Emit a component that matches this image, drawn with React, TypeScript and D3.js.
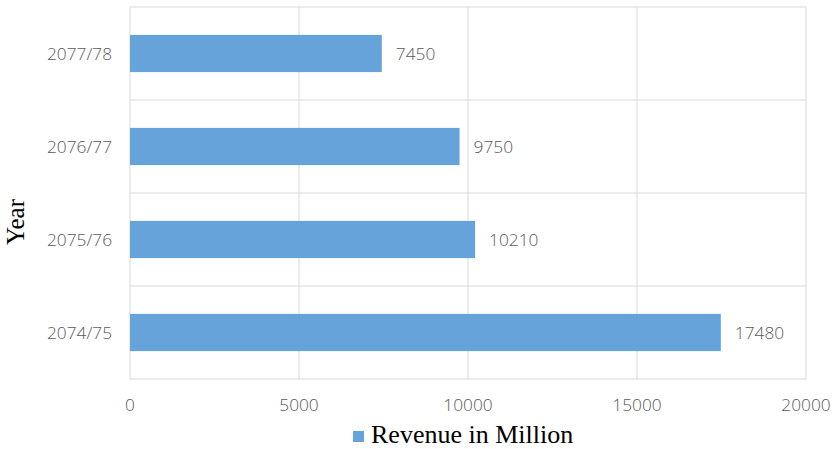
import React from "react";
import * as d3 from "d3";

const categories = ["2077/78", "2076/77", "2075/76", "2074/75"];
const revenue = [7450, 9750, 10210, 17480];
const xTicks = [0, 5000, 10000, 15000, 20000];
const seriesName = "Revenue in Million";

export default function App() {
  const W = 834, H = 449;
  const left = 130, right = 806, top = 7, bottom = 379;
  const x = d3.scaleLinear().domain([0, 20000]).range([left, right]);
  const y = d3.scaleBand().domain(categories).range([top, bottom]).paddingInner(0.6).paddingOuter(0.3);
  const band = d3.scaleBand().domain(categories).range([top, bottom]);
  const grid = "#d9d9d9";
  const txt = "#595959";
  const font = "'Open Sans', sans-serif";
  const fs = 17.3;
  return (
    <svg width={W} height={H} style={{ position: "absolute", left: 0, top: 0, background: "#fff" }}>
      {xTicks.map((t) => (
        <line key={t} x1={x(t)} x2={x(t)} y1={top} y2={bottom} stroke={grid} strokeWidth={1} />
      ))}
      {categories.map((c) => (
        <line key={c} x1={left} x2={right} y1={band(c)!} y2={band(c)!} stroke={grid} strokeWidth={1} />
      ))}
      <line x1={left} x2={right} y1={bottom} y2={bottom} stroke={grid} strokeWidth={1} />
      {categories.map((c, i) => (
        <g key={c}>
          <rect x={x(0)} y={y(c)!} width={x(revenue[i]) - x(0)} height={y.bandwidth()} fill="#65A3DA" />
          <text x={x(revenue[i]) + 14} y={y(c)! + y.bandwidth() / 2} dy="0.35em" fill={txt} fontFamily={font} fontSize={fs} fontWeight={300}>
            {revenue[i]}
          </text>
          <text x={112} y={y(c)! + y.bandwidth() / 2} dy="0.35em" textAnchor="end" fill={txt} fontFamily={font} fontSize={fs} fontWeight={300}>
            {c}
          </text>
        </g>
      ))}
      {xTicks.map((t) => (
        <text key={t} x={x(t)} y={405} dy="0.35em" textAnchor="middle" fill={txt} fontFamily={font} fontSize={fs} fontWeight={300}>
          {t}
        </text>
      ))}
      <text transform={`translate(24,222) rotate(-90)`} textAnchor="middle" fontFamily="'Liberation Serif', serif" fontSize={25} fill="#000">
        Year
      </text>
      <rect x={353} y={431} width={11} height={11} fill="#65A3DA" />
      <text x={371} y={443} fontFamily="'Liberation Serif', serif" fontSize={26} fill="#000">
        {seriesName}
      </text>
    </svg>
  );
}
